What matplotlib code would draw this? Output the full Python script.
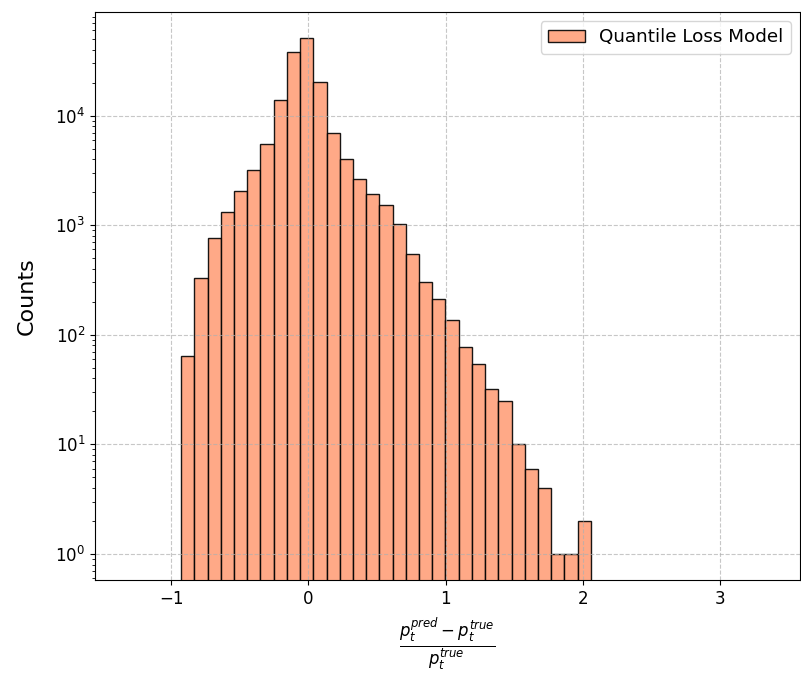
import numpy as np
import matplotlib
matplotlib.use("Agg")
import matplotlib.pyplot as plt

# Relative price error histogram (log counts), 31 equal bins
bin_lo, bin_hi, n_bins = -0.928, 2.06, 31
counts = [64, 332, 764, 1320, 2050, 3170, 5510, 13870, 38000, 50700,
          20270, 6900, 3990, 2660, 1927, 1538, 1026, 542, 303, 214,
          136, 78, 54, 32, 25, 10, 6, 4, 1, 1, 2]
x_ticks = [-1, 0, 1, 2, 3]
label = "Quantile Loss Model"

edges = np.linspace(bin_lo, bin_hi, n_bins + 1)
centers = 0.5 * (edges[:-1] + edges[1:])

fig = plt.figure(figsize=(8.01, 6.73), dpi=100)
ax = fig.add_axes([95 / 801, 1 - 580 / 673, 705 / 801, 568 / 673])

ax.hist(centers, bins=edges, weights=counts, color="lightsalmon",
        edgecolor="black", alpha=0.9, log=True, label=label)

ax.set_xlim(-1.557, 3.586)
ax.set_ylim(0.579, 88100)
ax.set_xticks(x_ticks)
ax.tick_params(labelsize=12)
ax.grid(True, linestyle="--", alpha=0.7)

ax.set_xlabel(r"$\frac{p_t^{pred} - p_t^{true}}{p_t^{true}}$", fontsize=17,
              labelpad=6)
ax.set_ylabel("Counts", fontsize=16, labelpad=13)
ax.legend(loc="upper right", fontsize=13.2)

fig.savefig("out.png", dpi=100)
